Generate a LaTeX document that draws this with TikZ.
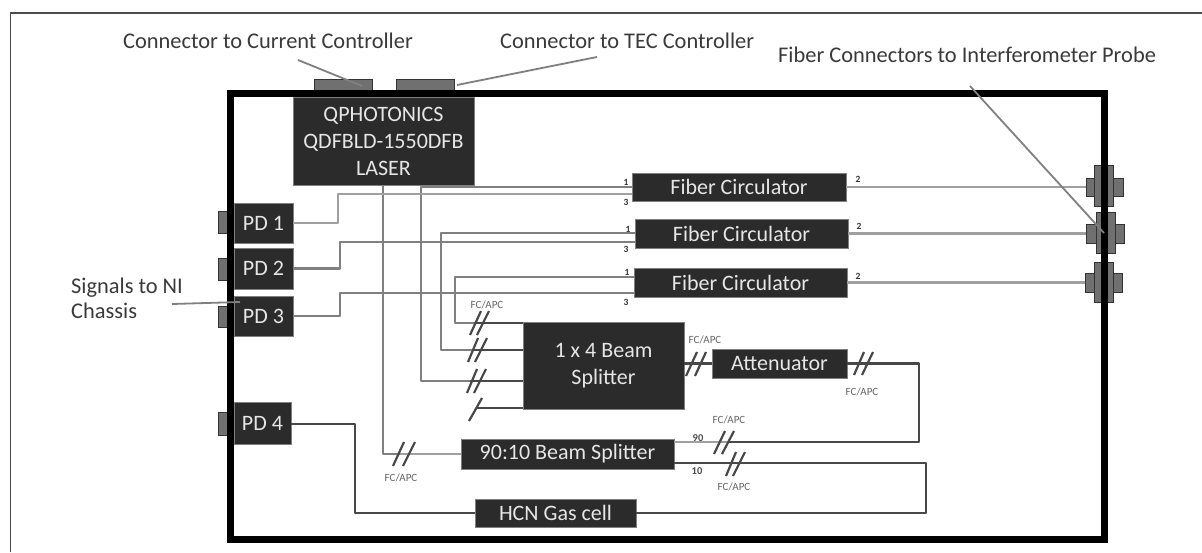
\documentclass[tikz,border=0pt]{standalone}
\usepackage{fontspec}
\setmainfont{Carlito}
\definecolor{boxc}{HTML}{2B2B2B}
\definecolor{boxt}{HTML}{E6E6E6}
\definecolor{darkf}{HTML}{484848}
\definecolor{lightf}{HTML}{A0A0A0}
\definecolor{midf}{HTML}{808080}
\definecolor{portc}{HTML}{707070}
\definecolor{labc}{HTML}{3A3A3A}
\tikzset{
  blk/.style={fill=boxc,draw=boxc!60!white,line width=.8pt,text=boxt,inner sep=0pt,align=center,font=\fontsize{22}{27}\selectfont},
  portbox/.style={fill=portc,draw=black!80,line width=1pt,inner sep=0pt},
  dfib/.style={draw=darkf,line width=2.2pt,line join=round},
  lfib/.style={draw=lightf,line width=2.2pt,line join=round},
  mfib/.style={draw=midf,line width=2.2pt,line join=round},
  slash/.style={draw=darkf,line width=2.2pt},
  leader/.style={draw=midf,line width=1.8pt},
  caption/.style={text=labc,inner sep=0pt,font=\fontsize{22.4}{25}\selectfont,align=left},
  fc/.style={text=black!60,inner sep=0pt,font=\fontsize{11}{12}\selectfont},
  pnum/.style={text=black!80,inner sep=0pt,font=\fontsize{9.5}{10}\selectfont\bfseries},
  bignum/.style={text=black!70,inner sep=0pt,font=\fontsize{10.5}{11}\selectfont\bfseries}
}
% #1 name, #2-#5 x0 y0 x1 y1, #6 style
\newcommand{\rbox}[6]{\node[#6,minimum width={(#4-#2)*1pt},minimum height={(#5-#3)*1pt}] (#1) at ({(#2+#4)/2},{(#3+#5)/2}) {};}
\newcommand{\tbox}[6]{\node[blk,minimum width={(#4-#2)*1pt},minimum height={(#5-#3)*1pt}] (#1) at ({(#2+#4)/2},{(#3+#5)/2}) {#6};}
% one slash of a fibre connector mark
\newcommand{\slashmark}[4]{\draw[slash] (#1,#2) -- (#3,#4);}
\begin{document}
\begin{tikzpicture}[x=1pt,y=-1pt]
\useasboundingbox (0,0) rectangle (1202,552);
\fill[white] (0,0) rectangle (1202,552);
% page rule
\draw[draw=black!70,line width=1.6pt] (10.5,552) -- (10.5,13) -- (1202,13);
% housing ports behind frame
\rbox{topa}{314}{79}{372}{92}{portbox}
\rbox{topb}{396}{79}{454}{92}{portbox}
\rbox{pa}{218}{211}{230}{233}{portbox}
\rbox{pb}{218}{258}{230}{280}{portbox}
\rbox{pc}{218}{306}{230}{327}{portbox}
\rbox{pd}{218}{412}{230}{435}{portbox}
\rbox{ra}{1086}{178}{1123}{196}{portbox}
\rbox{rab}{1094}{165}{1113}{206}{portbox}
\rbox{rb}{1086}{224}{1124}{243}{portbox}
\rbox{rbb}{1096}{212}{1115}{253}{portbox}
\rbox{rc}{1085}{273}{1122}{292}{portbox}
\rbox{rcb}{1094}{262}{1113}{302}{portbox}
% housing
\draw[black,line width=7pt,miter limit=10] (230.5,93) rectangle (1104.5,539);
% blocks
\tbox{laser}{293}{97}{474}{185}{QPHOTONICS\\QDFBLD-1550DFB\\LASER}
\tbox{pdone}{234}{203}{293}{243}{PD 1}
\tbox{pdtwo}{234}{248}{293}{289}{PD 2}
\tbox{pdthree}{234}{296}{293}{336}{PD 3}
\tbox{pdfour}{234}{402}{291}{444}{PD 4}
\tbox{circa}{632}{173}{846}{201}{Fiber Circulator}
\tbox{circb}{635}{219}{848}{248}{Fiber Circulator}
\tbox{circc}{634}{268}{847}{297}{Fiber Circulator}
\tbox{bsq}{523}{322}{684}{409}{1 x 4 Beam\\Splitter}
\tbox{atten}{712}{349}{847}{378}{Attenuator}
\tbox{bsn}{461}{439}{674}{469}{90:10 Beam Splitter}
\tbox{hcn}{475}{499}{636}{527}{HCN Gas cell}
% fibre turning points
\coordinate (bk0) at (400,454);
\coordinate (bka) at (421,381);
\coordinate (bkb) at (441,350);
\coordinate (bkc) at (455,323);
% laser to splitter
\draw[mfib] (383,185) -- (383,454) -- (bk0);
\draw[lfib] (bk0) -- (bsn.west);
% circulator 1-ports to 1x4 splitter
\draw[mfib] (632,187) -- (421,187) -- (bka) -- (470,381);
\draw[dfib] (470,381) -- (523,381);
\draw[mfib] (635,233) -- (441,233) -- (bkb) -- (472,350);
\draw[dfib] (472,350) -- (523,350);
\draw[mfib] (634,277) -- (455,277) -- (bkc) -- (475,323);
\draw[dfib] (475,323) -- (523,323);
\draw[dfib] (477,408) -- (523,408);
% circulator 3-ports to photodiodes
\draw[lfib] (632,194) -- (338,194) -- (338,223) -- (pdone.east);
\draw[mfib] (635,242) -- (340,242) -- (340,268.5) -- (pdtwo.east);
\draw[mfib] (634,293) -- (340,293) -- (340,316) -- (pdthree.east);
% circulator 2-ports to probe connectors
\draw[lfib] (ra.west -| circa.east) -- (ra.west);
\draw[lfib] (rb.west -| circb.east) -- (rb.west);
\draw[lfib] (rc.west -| circc.east) -- (rc.west);
% splitter chain
\draw[dfib] (bsq.east |- atten.west) -- (atten.west);
\draw[dfib] (atten.east) -- (919,363.5) -- (919,442) -- (728,442);
\draw[lfib] (728,442) -- (674,442);
\draw[dfib] (674,463) -- (926,463) -- (926,513) -- (hcn.east);
\draw[dfib] (hcn.west) -- (355,513) -- (355,424) -- (291,424);
% connector marks
\slashmark{393}{466}{404}{442}\slashmark{403}{466}{415}{442}
\slashmark{470}{335}{481}{311}\slashmark{477}{335}{489}{311}
\slashmark{468}{362}{478}{338}\slashmark{475}{362}{487}{338}
\slashmark{467}{393}{477}{369}\slashmark{474}{393}{486}{369}
\slashmark{469}{421}{482}{398}
\slashmark{686}{376}{697}{352}\slashmark{695}{376}{706}{352}
\slashmark{854}{375}{864}{352}\slashmark{862}{375}{873}{352}
\slashmark{714}{454}{725}{431}\slashmark{722}{454}{734}{431}
\slashmark{726}{476}{736}{452}\slashmark{733}{476}{745}{452}
% captions
\node[caption,anchor=west] (capa) at (123,41) {Connector to Current Controller};
\node[caption,anchor=west] (capb) at (500,41) {Connector to TEC Controller};
\node[caption,anchor=west] (capc) at (778,55) {Fiber Connectors to Interferometer Probe};
\node[caption,anchor=west] (capd) at (71,298) {Signals to NI\\Chassis};
% leaders
\coordinate (la) at (298,60);
\coordinate (lb) at (597,57);
\coordinate (lc) at (970,86);
\coordinate (ld) at (172,304);
\draw[leader] (la) -- (362,86);
\draw[leader] (lb) -- (457,85);
\draw[leader] (lc) -- (1104,233);
\draw[leader] (ld) -- (240,302);
% FC/APC labels
\node[fc] (fa) at (487,305) {FC/APC};
\node[fc] (fb) at (705,340) {FC/APC};
\node[fc] (fc) at (862,392) {FC/APC};
\node[fc] (fd) at (729,420) {FC/APC};
\node[fc] (fe) at (734,487) {FC/APC};
\node[fc] (ff) at (401,478) {FC/APC};
% port numbers
\node[pnum] (na) at (626,182) {1};
\node[pnum] (nb) at (626,202) {3};
\node[pnum] (nc) at (628,229) {1};
\node[pnum] (nd) at (626,249) {3};
\node[pnum] (ne) at (627,272) {1};
\node[pnum] (nf) at (626,302) {3};
\node[pnum] (ng) at (858,179) {2};
\node[pnum] (nh) at (859,226) {2};
\node[pnum] (ni) at (858,276) {2};
\node[bignum] (nj) at (698,438) {90};
\node[bignum] (nk) at (697,471) {10};
\end{tikzpicture}
\end{document}
